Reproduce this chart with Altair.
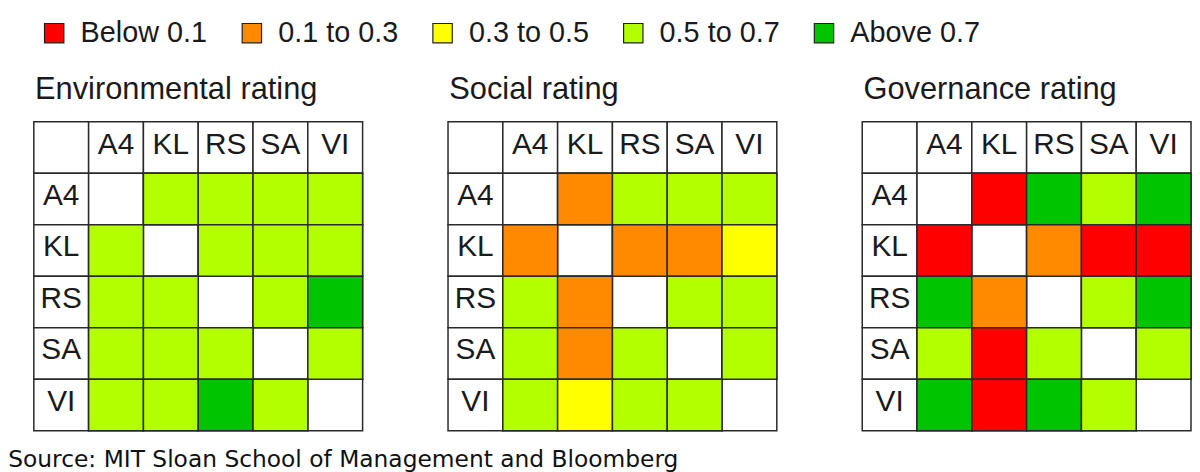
import altair as alt
import pandas as pd

companies = ["A4", "KL", "RS", "SA", "VI"]
categories = ["Below 0.1", "0.1 to 0.3", "0.3 to 0.5", "0.5 to 0.7", "Above 0.7"]
colors = ["#ff0000", "#ff8a00", "#ffff00", "#b3ff00", "#00c400"]
panel_titles = ["Environmental rating", "Social rating", "Governance rating"]
source = "Source: MIT Sloan School of Management and Bloomberg"

BL, OR, YE, LI, GR = categories

environmental = [
    [None, LI, LI, LI, LI],
    [LI, None, LI, LI, LI],
    [LI, LI, None, LI, GR],
    [LI, LI, LI, None, LI],
    [LI, LI, GR, LI, None],
]
social = [
    [None, OR, LI, LI, LI],
    [OR, None, OR, OR, YE],
    [LI, OR, None, LI, LI],
    [LI, OR, LI, None, LI],
    [LI, YE, LI, LI, None],
]
governance = [
    [None, BL, GR, LI, GR],
    [BL, None, OR, BL, BL],
    [GR, OR, None, LI, GR],
    [LI, BL, LI, None, LI],
    [GR, BL, GR, LI, None],
]

order = ["hdr"] + companies
FONT = "Liberation Sans"


def panel(matrix, title):
    recs = []
    for r in order:
        for c in order:
            rating = None
            label = None
            if r == "hdr" and c != "hdr":
                label = c
            elif c == "hdr" and r != "hdr":
                label = r
            elif r != "hdr" and c != "hdr":
                rating = matrix[companies.index(r)][companies.index(c)]
            recs.append({"row": r, "col": c, "rating": rating, "label": label})
    df = pd.DataFrame(recs)

    xs = alt.X("col:N", sort=order, axis=None,
               scale=alt.Scale(domain=order, paddingInner=0, paddingOuter=0))
    ys = alt.Y("row:N", sort=order, axis=None,
               scale=alt.Scale(domain=order, paddingInner=0, paddingOuter=0))

    white = alt.Chart(df).mark_rect(fill="white", stroke="#2a2a2a", strokeWidth=1.5).encode(x=xs, y=ys)
    colored = alt.Chart(df).transform_filter("datum.rating != null").mark_rect(
        stroke="#2a2a2a", strokeWidth=1.5
    ).encode(
        x=xs, y=ys,
        color=alt.Color("rating:N",
                        scale=alt.Scale(domain=categories, range=colors),
                        legend=alt.Legend(title=None, orient="top", direction="horizontal",
                                          symbolType="square", symbolSize=380,
                                          symbolStrokeColor="#222", symbolStrokeWidth=1.2,
                                          labelFont=FONT, labelFontSize=29, labelColor="#1a1a1a",
                                          labelOffset=12, columnPadding=30, offset=20,
                                          padding=6, labelLimit=300)),
    )
    text = alt.Chart(df).transform_filter("datum.label != null").mark_text(
        font=FONT, fontSize=30, color="#1a1a1a", baseline="middle", dy=-3
    ).encode(x=xs, y=ys, text="label:N")

    return alt.layer(white, colored, text).properties(
        width=331, height=311,
        title=alt.TitleParams(title, anchor="start", font=FONT, fontSize=31,
                              fontWeight="normal", color="#1a1a1a", offset=15, dx=2),
    )


chart = alt.hconcat(
    panel(environmental, panel_titles[0]),
    panel(social, panel_titles[1]),
    panel(governance, panel_titles[2]),
    spacing=84,
).properties(
    padding={"top": 3, "left": 0, "right": 0, "bottom": 0},
    title=alt.TitleParams(source, orient="bottom", anchor="start", font="DejaVu Sans",
                          fontSize=23.5, fontWeight="normal", color="#111", offset=17, dx=-25),
).configure_view(stroke=None)

chart.save("out.html", embed_options={"renderer": "svg", "actions": False})
